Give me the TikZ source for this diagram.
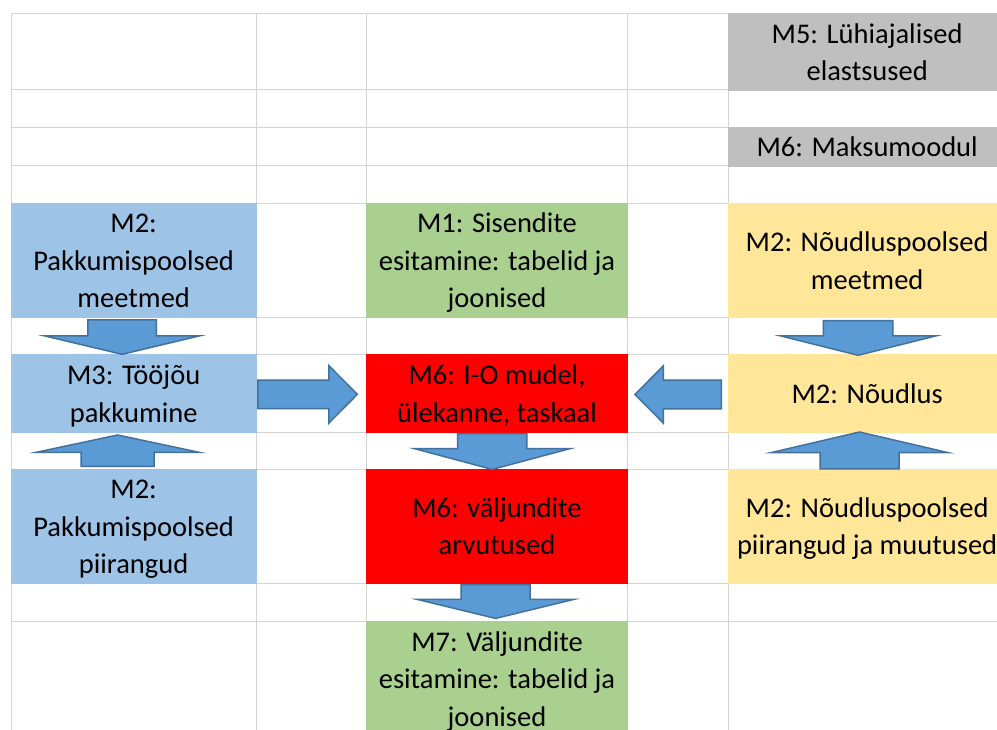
\documentclass[tikz,border=0pt]{standalone}
\usepackage{fontspec}
\setmainfont{Carlito}
\usetikzlibrary{calc}
\definecolor{gridc}{HTML}{D4D4D4}
\definecolor{cblue}{HTML}{9DC3E6}
\definecolor{cgreen}{HTML}{A9D08E}
\definecolor{cyellow}{HTML}{FFE699}
\definecolor{cgray}{HTML}{BFBFBF}
\definecolor{cred}{HTML}{FF0000}
\definecolor{afill}{HTML}{5B9BD5}
\definecolor{aline}{HTML}{41719C}
\newcommand{\lnst}{\rule[-9pt]{0pt}{37.6pt}}
\newcommand{\blockarrow}[4]{%
  \coordinate (#1h) at ($(#1p)!#4!(#1t)$);
  \draw[barrow] ($(#1t)!#2!90:(#1p)$) -- ($(#1h)!#2!90:(#1p)$) -- ($(#1h)!#3!90:(#1p)$) -- (#1p) -- ($(#1h)!#3!-90:(#1p)$) -- ($(#1h)!#2!-90:(#1p)$) -- ($(#1t)!#2!-90:(#1p)$) -- cycle;}
\begin{document}
\begin{tikzpicture}[x=1pt, y=-1pt,
  box/.style={rectangle, inner sep=0pt, align=center, text=black,
    font=\fontsize{28.5pt}{37.6pt}\selectfont},
  lcol/.style={box, minimum width=246pt},
  ccol/.style={box, minimum width=262.4pt},
  rcol/.style={box, minimum width=279pt},
  tallrow/.style={minimum height=115.4pt},
  midrow/.style={minimum height=78.3pt},
  barrow/.style={fill=afill, draw=aline, line width=1.5pt, line join=miter},
  gridline/.style={draw=gridc, line width=1pt}]
\useasboundingbox (0,0) rectangle (997,730);
\clip (0,0) rectangle (997,730);
\fill[white] (0,0) rectangle (997,730);
% grid
\foreach \yy in {14,89.3,127.7,165.3,203.3,317.7,355,432.3,469.3,583.3,621.3}
  \draw[gridline] (11,\yy) -- (997,\yy);
\foreach \xx in {11,256.3,366.3,627.7,728.3}
  \draw[gridline] (\xx,14) -- (\xx,730);
% grey boxes
\node[rcol, fill=cgray, minimum height=77.7pt] (m5) at (867.15,52.35) {\lnst M5: Lühiajalised\\\lnst elastsused};
\node[rcol, fill=cgray, minimum height=40pt] (m6t) at (867.15,147.2) {\lnst M6: Maksumoodul};
% left column
\node[lcol, tallrow, fill=cblue] (b1) at (133.65,260.5) {\lnst M2:\\\lnst Pakkumispoolsed\\\lnst meetmed};
\node[lcol, midrow, fill=cblue] (b2) at (133.65,393.65) {\lnst M3: Tööjõu\\\lnst pakkumine};
\node[lcol, tallrow, fill=cblue] (b3) at (133.65,526.3) {\lnst M2:\\\lnst Pakkumispoolsed\\\lnst piirangud};
% centre column
\node[ccol, tallrow, fill=cgreen] (g1) at (497,260.5) {\lnst M1: Sisendite\\\lnst esitamine: tabelid ja\\\lnst joonised};
\node[ccol, midrow, fill=cred] (r1) at (497,393.65) {\lnst M6: I-O mudel,\\\lnst ülekanne, taskaal};
\node[ccol, tallrow, fill=cred] (r2) at (497,526.3) {\lnst M6: väljundite\\\lnst arvutused};
\node[ccol, tallrow, fill=cgreen] (g2) at (497,678.8) {\lnst M7: Väljundite\\\lnst esitamine: tabelid ja\\\lnst joonised};
% right column
\node[rcol, tallrow, fill=cyellow] (y1) at (867.15,260.5) {\lnst M2: Nõudluspoolsed\\\lnst meetmed};
\node[rcol, midrow, fill=cyellow] (y2) at (867.15,393.65) {\lnst M2: Nõudlus};
\node[rcol, tallrow, fill=cyellow] (y3) at (867.15,526.3) {\lnst M2: Nõudluspoolsed\\\lnst piirangud ja muutused};
% block arrows
\coordinate (a1t) at ($(b1.south)+(-11.6,1.5)$);
\coordinate (a1p) at ($(b2.north)+(-11.6,0)$);
\blockarrow{a1}{34.3pt}{77.8pt}{18.5pt}
\coordinate (a2t) at ($(b3.north)+(-16,-2)$);
\coordinate (a2p) at ($(b2.south)+(-16,2)$);
\blockarrow{a2}{36.5pt}{81.8pt}{17.4pt}
\coordinate (a3t) at ($(b2.east)+(1,0.7)$);
\coordinate (a3p) at ($(r1.west)+(-8.3,0.7)$);
\blockarrow{a3}{14.2pt}{28.8pt}{28.5pt}
\coordinate (a4t) at ($(y2.west)+(-6,0.8)$);
\coordinate (a4p) at ($(r1.east)+(6.6,0.8)$);
\blockarrow{a4}{14.3pt}{28.7pt}{28.4pt}
\coordinate (a5t) at ($(y1.south)+(-9,2.3)$);
\coordinate (a5p) at ($(y2.north)+(-9,1)$);
\blockarrow{a5}{34.7pt}{77.3pt}{19.3pt}
\coordinate (a6t) at ($(y3.north)+(-7.6,0.5)$);
\coordinate (a6p) at ($(y2.south)+(-7.6,-1)$);
\blockarrow{a6}{39.5pt}{88.8pt}{20.7pt}
\coordinate (a7t) at ($(r1.south)+(-4.8,0.5)$);
\coordinate (a7p) at ($(r2.north)+(-4.8,1)$);
\blockarrow{a7}{34.7pt}{77.5pt}{20.7pt}
\coordinate (a8t) at ($(r2.south)+(-1.5,0.5)$);
\coordinate (a8p) at ($(g2.north)+(-1.5,-2.5)$);
\blockarrow{a8}{34.5pt}{78.3pt}{19pt}
\end{tikzpicture}
\end{document}
